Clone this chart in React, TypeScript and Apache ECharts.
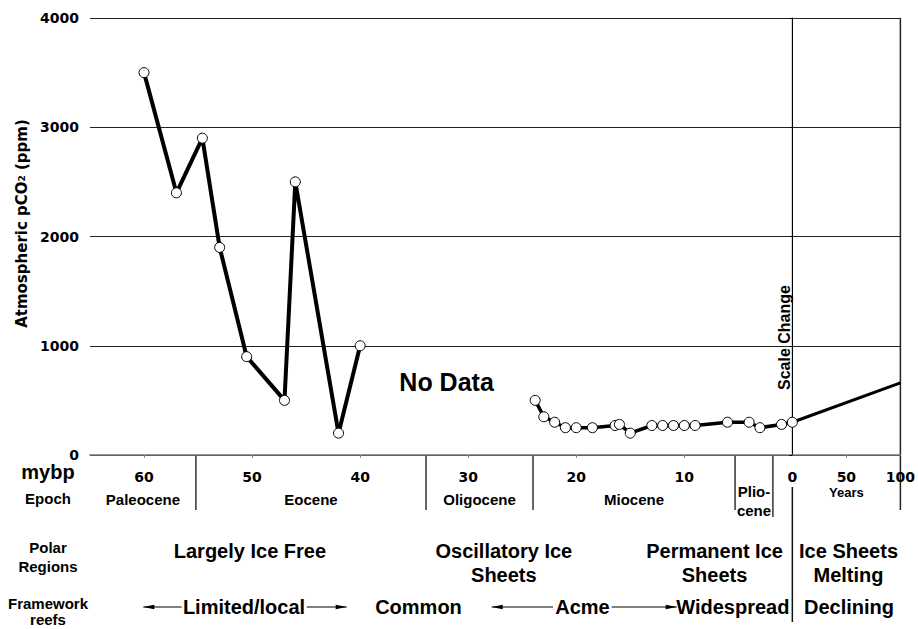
import React, { useEffect, useRef } from "react";
import * as echarts from "echarts";

// ---- data (ages in million years before present, CO2 in ppm) ----
const paleogeneAge = [60, 57, 54.6, 53, 50.5, 47, 46, 42, 40];
const paleogeneCO2 = [3500, 2400, 2900, 1900, 900, 500, 2500, 200, 1000];
const neogeneAge = [23.8, 23.0, 22.0, 21.0, 20.0, 18.5, 16.4, 16.0, 15.0, 13.0, 12.0, 11.0, 10.0, 9.0, 6.0, 4.0, 3.0, 1.0, 0];
const neogeneCO2 = [500, 350, 300, 250, 250, 250, 270, 280, 200, 270, 270, 270, 270, 270, 300, 300, 250, 280, 300];
const futureYears = [0, 100];
const futureCO2 = [300, 660];

const mybpTicks = [60, 50, 40, 30, 20, 10, 0];
const yearTicks = [50, 100];
const yTicks = [0, 1000, 2000, 3000, 4000];

const epochNames = ["Paleocene", "Eocene", "Oligocene", "Miocene", "Plio-\ncene"];
const epochStart = [65, 55.2, 33.9, 24.0, 5.3];
const epochEnd = [55.2, 33.9, 24.0, 5.3, 1.8];

const polarLabels = ["Largely Ice Free", "Oscillatory Ice\nSheets", "Permanent Ice\nSheets", "Ice Sheets\nMelting"];
const reefLabels = ["Limited/local", "Common", "Acme", "Widespread", "Declining"];

// 100 years of the right-hand panel occupy 10 units of the axis
const YEAR_UNITS = 10;
const ageToX = (a: number) => -a;
const yearToX = (y: number) => (y / 100) * YEAR_UNITS;

const ARIAL = '"Liberation Sans", Arial, sans-serif';
const VERDANA = '"DejaVu Sans", Verdana, sans-serif';

export default function App() {
  const ref = useRef<HTMLDivElement>(null);

  useEffect(() => {
    if (!ref.current) return;
    const chart = echarts.init(ref.current, null, { renderer: "svg" });

    const xLabelValues = [...mybpTicks.map(ageToX), ...yearTicks.map(yearToX)];
    const xTickValues = [...mybpTicks.filter((v) => v !== 0).map(ageToX), yearToX(50)];

    const option: any = {
      animation: false,
      grid: { left: 90, right: 15.5, top: 18, bottom: 174 },
      xAxis: {
        type: "value",
        min: -65,
        max: YEAR_UNITS,
        axisLine: { show: true, lineStyle: { color: "#777", width: 1.5 } },
        axisTick: { show: true, length: 3, customValues: xTickValues, lineStyle: { color: "#888" } },
        axisLabel: {
          customValues: xLabelValues,
          showMinLabel: true,
          showMaxLabel: true,
          formatter: (v: number) => (v <= 0 ? String(Math.round(Math.abs(v))) : String(Math.round((v / YEAR_UNITS) * 100))),
          fontFamily: VERDANA,
          fontWeight: "bold",
          fontSize: 14,
          color: "#000",
          margin: 15,
        },
        splitLine: { show: false },
      },
      yAxis: {
        type: "value",
        min: yTicks[0],
        max: yTicks[yTicks.length - 1],
        interval: 1000,
        name: "Atmospheric pCO{s|2} (ppm)",
        nameLocation: "middle",
        nameGap: 48,
        nameRotate: 90,
        nameTextStyle: {
          fontFamily: VERDANA,
          fontWeight: "bold",
          fontSize: 15,
          color: "#000",
          padding: [0, 0, 0, 26],
          rich: { s: { fontFamily: VERDANA, fontWeight: "bold", fontSize: 9, color: "#000" } },
        },
        axisLine: { show: true, lineStyle: { color: "#000", width: 1 } },
        axisTick: { show: true, length: 3, lineStyle: { color: "#000" } },
        axisLabel: {
          formatter: (v: number) => String(v),
          fontFamily: VERDANA,
          fontWeight: "bold",
          fontSize: 14,
          color: "#000",
          margin: 11,
        },
        splitLine: { show: true, lineStyle: { color: "#222", width: 1 } },
      },
      series: [
        {
          type: "line",
          name: "future",
          data: futureYears.map((y, i) => [yearToX(y), futureCO2[i]]),
          showSymbol: false,
          lineStyle: { color: "#000", width: 3 },
          z: 2,
        },
        {
          type: "line",
          name: "paleogene",
          data: paleogeneAge.map((a, i) => [ageToX(a), paleogeneCO2[i]]),
          symbol: "circle",
          symbolSize: 10,
          lineStyle: { color: "#000", width: 4 },
          itemStyle: { color: "#fff", borderColor: "#000", borderWidth: 1 },
          z: 3,
        },
        {
          type: "line",
          name: "neogene",
          data: neogeneAge.map((a, i) => [ageToX(a), neogeneCO2[i]]),
          symbol: "circle",
          symbolSize: 10,
          lineStyle: { color: "#000", width: 3.5 },
          itemStyle: { color: "#fff", borderColor: "#000", borderWidth: 1 },
          z: 3,
        },
      ],
    };
    chart.setOption(option);

    const px = (v: number) => chart.convertToPixel({ xAxisIndex: 0 }, v) as number;
    const py = (v: number) => chart.convertToPixel({ yAxisIndex: 0 }, v) as number;
    const y0 = py(0);
    const yTop = py(4000);
    const sepBottom = 510;

    const line = (x1: number, y1: number, x2: number, y2: number, stroke = "#333", lineWidth = 1.5) => ({
      type: "line",
      shape: { x1, y1, x2, y2 },
      style: { stroke, lineWidth },
      silent: true,
    });
    const text = (t: string, x: number, y: number, size: number, opts: any = {}) => ({
      type: "text",
      x,
      y,
      rotation: opts.rotation || 0,
      style: {
        text: t,
        fill: "#000",
        fontFamily: opts.family || ARIAL,
        fontWeight: "bold",
        fontSize: size,
        align: opts.align || "center",
        verticalAlign: opts.valign || "middle",
        lineHeight: opts.lineHeight || size * 1.2,
      },
      silent: true,
    });
    const arrowHead = (tipX: number, y: number, dir: number) => ({
      type: "polygon",
      shape: { points: [[tipX, y], [tipX - dir * 11, y - 2.2], [tipX - dir * 11, y + 2.2]] },
      style: { fill: "#000" },
      silent: true,
    });

    const g: any[] = [];
    // scale change line + right border
    g.push(line(px(0), yTop, px(0), y0, "#000", 1));
    g.push(line(px(0), 487, px(0), 622, "#111", 1.5));
    g.push(line(px(YEAR_UNITS), yTop, px(YEAR_UNITS), sepBottom, "#222", 1.5));
    // epoch separators and labels
    epochStart.forEach((s, i) => {
      const e = epochEnd[i];
      if (i > 0) g.push(line(px(-s), y0, px(-s), sepBottom));
      if (i === epochStart.length - 1) g.push(line(px(-e), y0, px(-e), 517));
      const cx = (px(-s) + px(-e)) / 2;
      if (epochNames[i].includes("\n")) {
        g.push(text(epochNames[i], cx, 482, 15, { valign: "top", lineHeight: 19 }));
      } else {
        g.push(text(epochNames[i], cx, 499, 15));
      }
    });
    g.push(text("Years", px(yearToX(50)), 492, 13));
    // left column
    g.push(text("mybp", 48, 472, 20));
    g.push(text("Epoch", 48, 498.5, 15));
    g.push(text("Polar\nRegions", 48, 537.5, 15, { valign: "top", lineHeight: 19 }));
    g.push(text("Framework\nreefs", 48, 595, 15, { valign: "top", lineHeight: 16.5 }));
    // in-plot annotations
    g.push(text("No Data", px(-32), py(670), 25));
    g.push(text("Scale Change", px(-0.7), py(1075), 16, { rotation: Math.PI / 2 }));
    // polar regions row
    const polarX = [px(-50.2), px(-26.7), px(-7.2), px(yearToX(52))];
    polarLabels.forEach((t, i) => g.push(text(t, polarX[i], 538.5, 20, { valign: "top", lineHeight: 24 })));
    // framework reefs row
    const reefY = 607;
    const reefX = [244, 418.5, 582.5, 732.8, 849];
    reefLabels.forEach((t, i) => g.push(text(t, reefX[i], reefY, 20)));
    // arrows
    g.push(line(143.3, reefY, 181.7, reefY, "#000", 1));
    g.push(arrowHead(143.3, reefY, -1));
    g.push(line(306.7, reefY, 346.7, reefY, "#000", 1));
    g.push(arrowHead(346.7, reefY, 1));
    g.push(line(491.7, reefY, 553, reefY, "#000", 1));
    g.push(arrowHead(491.7, reefY, -1));
    g.push(line(611.7, reefY, 676.7, reefY, "#000", 1));
    g.push(arrowHead(676.7, reefY, 1));

    chart.setOption({ graphic: g });

    return () => chart.dispose();
  }, []);

  return (
    <div
      ref={ref}
      style={{ position: "fixed", left: 0, top: 0, width: 918, height: 629, background: "#fff" }}
    />
  );
}
